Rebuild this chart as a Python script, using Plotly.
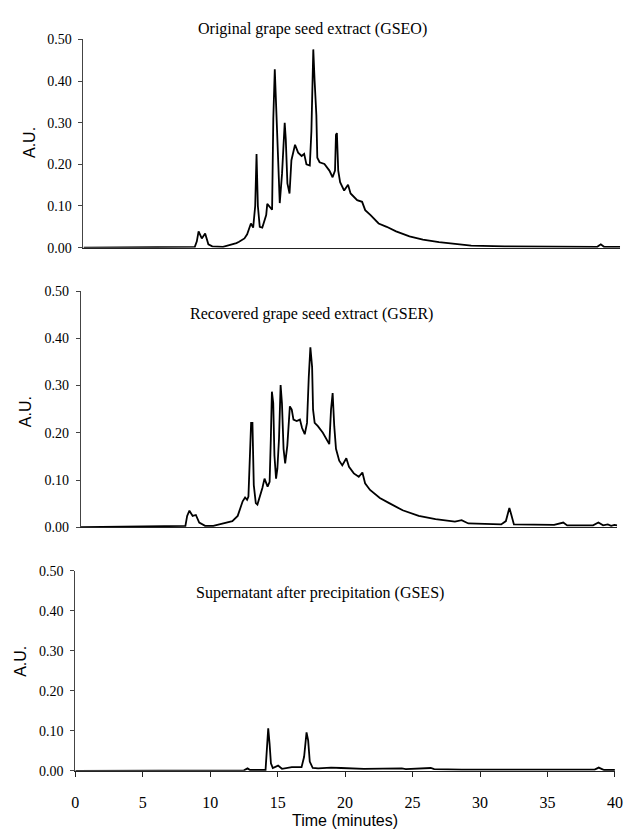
import plotly.graph_objects as go

# ---------------- data ----------------
gseo_time = [
    0.0, 7.6, 8.3, 8.45, 8.58, 8.82, 9.07, 9.31, 9.6, 10.4,
    10.9, 11.4, 11.6, 12.0, 12.2, 12.48, 12.65, 12.8, 12.9, 13.0,
    13.14, 13.33, 13.62, 13.7, 14.06, 14.15, 14.26, 14.4, 14.63, 14.8,
    14.92, 15.0, 15.08, 15.2, 15.36, 15.5, 15.77, 16.0, 16.26, 16.45,
    16.62, 16.87, 16.99, 17.06, 17.13, 17.23, 17.36, 17.43, 17.6, 17.96,
    18.33, 18.57, 18.75, 18.82, 18.89, 18.99, 19.13, 19.43, 19.72, 19.91,
    20.4, 20.77, 21.0, 21.4, 22.0, 22.6, 23.3, 24.3, 25.3, 26.5,
    27.7, 28.9, 31.4, 38.3, 38.56, 38.8, 40.0,
]
gseo_au = [
    0.000, 0.001, 0.002, 0.015, 0.039, 0.022, 0.034, 0.008, 0.003, 0.002,
    0.006, 0.011, 0.014, 0.022, 0.032, 0.058, 0.048, 0.100, 0.225, 0.100,
    0.050, 0.048, 0.078, 0.105, 0.091, 0.310, 0.428, 0.290, 0.107, 0.177,
    0.264, 0.300, 0.260, 0.154, 0.130, 0.210, 0.247, 0.228, 0.220, 0.225,
    0.200, 0.197, 0.280, 0.374, 0.476, 0.400, 0.318, 0.216, 0.205, 0.201,
    0.185, 0.169, 0.185, 0.271, 0.275, 0.185, 0.157, 0.137, 0.151, 0.130,
    0.114, 0.110, 0.090, 0.078, 0.058, 0.050, 0.039, 0.027, 0.019, 0.013,
    0.009, 0.005, 0.003, 0.002, 0.008, 0.002, 0.002,
]

gser_time = [
    0.0, 7.0, 7.8, 7.93, 8.1, 8.34, 8.58, 8.83, 9.27, 9.88,
    10.6, 11.3, 11.7, 12.07, 12.25, 12.4, 12.5, 12.6, 12.7, 12.8,
    12.9, 13.05, 13.17, 13.54, 13.7, 13.93, 14.08, 14.17, 14.25, 14.35,
    14.44, 14.56, 14.66, 14.78, 14.9, 15.0, 15.12, 15.24, 15.4, 15.59,
    15.73, 15.86, 16.1, 16.34, 16.5, 16.7, 16.87, 17.0, 17.12, 17.25,
    17.32, 17.44, 17.68, 18.05, 18.53, 18.66, 18.78, 18.9, 19.03, 19.27,
    19.5, 19.8, 20.0, 20.36, 20.73, 21.0, 21.2, 21.57, 22.3, 23.0,
    24.0, 25.2, 26.45, 27.9, 28.4, 28.9, 31.35, 31.7, 31.96, 32.1,
    32.3, 35.3, 35.98, 36.27, 38.2, 38.6, 38.95, 39.3, 39.55, 39.8,
    40.0,
]
gser_au = [
    0.000, 0.002, 0.003, 0.024, 0.035, 0.024, 0.026, 0.010, 0.003, 0.003,
    0.008, 0.013, 0.024, 0.055, 0.063, 0.058, 0.065, 0.145, 0.221, 0.221,
    0.089, 0.051, 0.048, 0.083, 0.103, 0.086, 0.096, 0.187, 0.287, 0.263,
    0.152, 0.103, 0.124, 0.187, 0.301, 0.263, 0.166, 0.135, 0.173, 0.256,
    0.249, 0.228, 0.225, 0.228, 0.210, 0.197, 0.221, 0.318, 0.381, 0.339,
    0.249, 0.221, 0.214, 0.200, 0.176, 0.249, 0.284, 0.214, 0.166, 0.141,
    0.131, 0.146, 0.128, 0.114, 0.107, 0.116, 0.093, 0.079, 0.062, 0.051,
    0.036, 0.024, 0.017, 0.012, 0.015, 0.008, 0.006, 0.013, 0.041, 0.027,
    0.006, 0.005, 0.010, 0.004, 0.004, 0.010, 0.004, 0.006, 0.003, 0.005,
    0.004,
]

gses_time = [
    0.0, 7.0, 7.5, 12.5, 12.77, 12.95, 14.1, 14.2, 14.3, 14.4,
    14.5, 14.64, 15.03, 15.32, 16.05, 16.77, 16.96, 17.14, 17.26, 17.38,
    17.6, 18.0, 18.96, 19.7, 21.4, 24.2, 24.5, 26.35, 26.6, 28.65,
    38.5, 38.8, 39.2, 40.0,
]
gses_au = [
    0.000, 0.001, 0.002, 0.001, 0.006, 0.002, 0.002, 0.050, 0.106, 0.068,
    0.019, 0.007, 0.013, 0.005, 0.009, 0.009, 0.035, 0.096, 0.076, 0.023,
    0.007, 0.006, 0.008, 0.007, 0.005, 0.006, 0.004, 0.007, 0.004, 0.003,
    0.003, 0.008, 0.002, 0.002,
]

panel_titles = [
    "Original grape seed extract (GSEO)",
    "Recovered grape seed extract (GSER)",
    "Supernatant after precipitation (GSES)",
]
y_tick_values = [0.0, 0.1, 0.2, 0.3, 0.4, 0.5]
y_tick_labels = ["0.00", "0.10", "0.20", "0.30", "0.40", "0.50"]
x_tick_values = [0, 5, 10, 15, 20, 25, 30, 35, 40]
x_tick_labels = ["0", "5", "10", "15", "20", "25", "30", "35", "40"]
y_title = "A.U."
x_title = "Time (minutes)"

series = [(gseo_time, gseo_au), (gser_time, gser_au), (gses_time, gses_au)]

# ---------------- layout geometry ----------------
W, H = 634, 840
x_domains = [(81 / W, 628 / W), (78.3 / W, 625 / W), (72.7 / W, 622.7 / W)]
y_domains = [(1 - 245 / H, 1 - 33 / H), (1 - 529.7 / H, 1 - 289.3 / H), (1 - 777.7 / H, 1 - 574 / H)]
title_pos = [(314, 22), (313, 313), (322, 597)]
ytitle_pos = [(26, 138), (22, 412), (16, 666)]

serif = "Liberation Serif, Times New Roman, serif"
sans = "Liberation Sans, Arial, sans-serif"

fig = go.Figure()
layout = dict(
    width=W, height=H, margin=dict(l=0, r=0, t=0, b=0),
    paper_bgcolor="white", plot_bgcolor="white", showlegend=False,
)
annotations = []

for i, (tx, ty) in enumerate(series):
    sfx = "" if i == 0 else str(i + 1)
    fig.add_trace(go.Scatter(
        x=tx, y=ty, mode="lines",
        line=dict(color="black", width=1.8),
        xaxis="x" + sfx, yaxis="y" + sfx,
        hoverinfo="skip",
    ))
    last = (i == 2)
    layout["xaxis" + sfx] = dict(
        domain=list(x_domains[i]), range=[0, 40], anchor="y" + sfx,
        showgrid=False, zeroline=False, showline=True,
        linecolor="#222", linewidth=1,
        ticks="outside" if last else "", ticklen=5, tickcolor="#222",
        tickvals=x_tick_values if last else [],
        ticktext=x_tick_labels if last else [],
        showticklabels=last, ticklabelstandoff=12,
        tickfont=dict(family=serif, size=16, color="black"),
        fixedrange=True,
    )
    layout["yaxis" + sfx] = dict(
        domain=list(y_domains[i]), range=[0, 0.5], anchor="x" + sfx,
        showgrid=False, zeroline=False, showline=True,
        linecolor="#444", linewidth=1,
        ticks="outside", ticklen=4, tickcolor="#444",
        tickvals=y_tick_values, ticktext=y_tick_labels,
        ticklabelstandoff=4,
        tickfont=dict(family=serif, size=14, color="black"),
        fixedrange=True,
    )
    annotations.append(dict(
        text=panel_titles[i], xref="paper", yref="paper",
        x=title_pos[i][0] / W, y=1 - title_pos[i][1] / H,
        xanchor="center", yanchor="middle", showarrow=False,
        font=dict(family=serif, size=16, color="black"),
    ))
    annotations.append(dict(
        text=y_title, xref="paper", yref="paper",
        x=ytitle_pos[i][0] / W, y=1 - ytitle_pos[i][1] / H,
        xanchor="center", yanchor="middle", showarrow=False, textangle=-90,
        font=dict(family=sans, size=16, color="black"),
    ))

annotations.append(dict(
    text=x_title, xref="paper", yref="paper",
    x=348 / W, y=0, xanchor="center", yanchor="bottom", yshift=1,
    showarrow=False, font=dict(family=sans, size=16, color="black"),
))
layout["annotations"] = annotations
fig.update_layout(**layout)

fig.write_html("out.html")
